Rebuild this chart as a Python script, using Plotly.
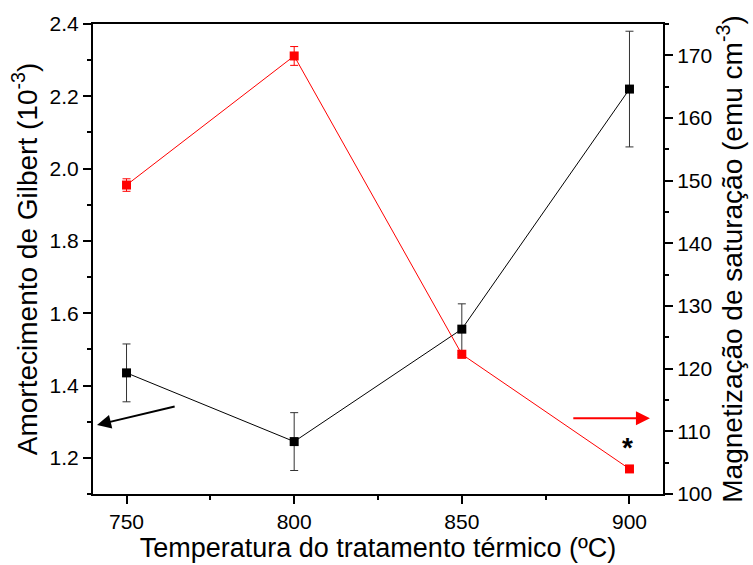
import plotly.graph_objects as go

# Heat-treatment temperatures (ºC)
temperatura = [750, 800, 850, 900]

# Gilbert damping (10^-3) and its uncertainty
amortecimento = [1.435, 1.245, 1.556, 2.22]
amortecimento_err = [0.08, 0.08, 0.07, 0.16]

# Saturation magnetisation (emu cm^-3) and its uncertainty
magnetizacao = [149.3, 169.9, 122.3, 104.0]
magnetizacao_err = [1.0, 1.5, 0.6, 0.4]

x_ticks = [750, 800, 850, 900]
y_ticks = [1.2, 1.4, 1.6, 1.8, 2.0, 2.2, 2.4]
y2_ticks = [100, 110, 120, 130, 140, 150, 160, 170]

FONT = "Liberation Sans, Arial, sans-serif"

fig = go.Figure()

fig.add_trace(go.Scatter(
    x=temperatura, y=amortecimento,
    mode="lines+markers",
    line=dict(color="black", width=1),
    marker=dict(symbol="square", size=9, color="black"),
    error_y=dict(type="data", array=amortecimento_err, color="#333333",
                 thickness=1, width=4),
    yaxis="y", showlegend=False,
))

fig.add_trace(go.Scatter(
    x=temperatura, y=magnetizacao,
    mode="lines+markers",
    line=dict(color="red", width=1),
    marker=dict(symbol="square", size=9, color="red"),
    error_y=dict(type="data", array=magnetizacao_err, color="red",
                 thickness=1, width=4),
    yaxis="y2", showlegend=False,
))

axis_common = dict(
    showline=True, linecolor="black", linewidth=2,
    ticks="outside", ticklen=8, tickwidth=2, tickcolor="black",
    showgrid=False, zeroline=False,
    tickfont=dict(family=FONT, size=21, color="black"),
)

fig.update_layout(
    width=753, height=565,
    margin=dict(l=93, r=90, t=17, b=71),
    paper_bgcolor="white", plot_bgcolor="white",
    font=dict(family=FONT, color="black"),
    xaxis=dict(
        range=[740, 910], tickvals=x_ticks, mirror=True,
        minor=dict(tickvals=[775, 825, 875], ticks="outside", ticklen=4,
                   tickwidth=2, tickcolor="black"),
        title=dict(text="Temperatura do tratamento térmico (ºC)",
                   font=dict(family=FONT, size=27), standoff=0),
        **axis_common,
    ),
    yaxis=dict(
        range=[1.1, 2.4], tickvals=y_ticks, tickformat=".1f",
        minor=dict(dtick=0.1, ticks="outside", ticklen=4, tickwidth=2,
                   tickcolor="black"),
        title=dict(text="Amortecimento de Gilbert (10<sup>-3</sup>)",
                   font=dict(family=FONT, size=28), standoff=4),
        **axis_common,
    ),
    yaxis2=dict(
        range=[100, 175], tickvals=y2_ticks, overlaying="y", side="right",
        minor=dict(dtick=5, ticks="outside", ticklen=4, tickwidth=2,
                   tickcolor="black"),
        title=dict(text="Magnetização de saturação (emu cm<sup>-3</sup>)",
                   font=dict(family=FONT, size=28), standoff=4),
        **axis_common,
    ),
)

# Arrow pointing to the left axis (damping series)
fig.add_annotation(
    x=741.2, y=1.291, ax=764.8, ay=1.343,
    xref="x", yref="y", axref="x", ayref="y",
    showarrow=True, arrowhead=2, arrowsize=1.4, arrowwidth=2,
    arrowcolor="black", text="",
)

# Arrow pointing to the right axis (magnetisation series)
fig.add_annotation(
    x=906.1, y=112.1, ax=882.8, ay=112.1,
    xref="x", yref="y2", axref="x", ayref="y2",
    showarrow=True, arrowhead=2, arrowsize=1.4, arrowwidth=2,
    arrowcolor="red", text="",
)

# Asterisk above the 900 ºC magnetisation point
fig.add_annotation(
    x=899.5, y=107.4, xref="x", yref="y2",
    text="<b>*</b>", showarrow=False,
    font=dict(family=FONT, size=28, color="black"),
)

fig.write_html("out.html")
